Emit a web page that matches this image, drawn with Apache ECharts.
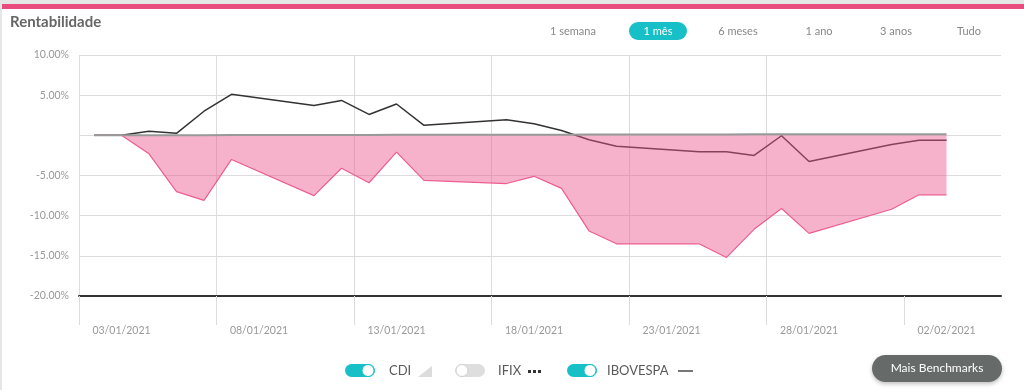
<!DOCTYPE html>
<html>
<head>
<meta charset="utf-8">
<script src="https://cdn.jsdelivr.net/npm/echarts@6/dist/echarts.min.js"></script>
<style>
html,body{margin:0;padding:0;background:#fff;}
#c{width:1024px;height:390px;}
</style>
</head>
<body>
<div id="c"></div>
<script>
// ---- data ----
const dates = ['2021-01-02','2021-01-03','2021-01-04','2021-01-05','2021-01-06','2021-01-07',
  '2021-01-10','2021-01-11','2021-01-12','2021-01-13','2021-01-14',
  '2021-01-17','2021-01-18','2021-01-19','2021-01-20','2021-01-21',
  '2021-01-24','2021-01-25','2021-01-26','2021-01-27','2021-01-28',
  '2021-01-31','2021-02-01','2021-02-02'];
const carteira = [0, 0, -2.3, -7.0, -8.1, -3.0, -7.5, -4.1, -5.9, -2.1, -5.6,
  -6.0, -5.1, -6.6, -11.9, -13.5, -13.5, -15.2, -11.7, -9.1, -12.2, -9.2, -7.4, -7.4];
const ibovespa = [0, 0, 0.5, 0.25, 3.0, 5.1, 3.7, 4.35, 2.6, 3.9, 1.25,
  1.95, 1.45, 0.6, -0.55, -1.35, -2.05, -2.05, -2.5, -0.05, -3.25, -1.15, -0.6, -0.6];
const cdi = [0, 0, 0.01, 0.02, 0.02, 0.03, 0.04, 0.04, 0.05, 0.06, 0.06,
  0.07, 0.08, 0.08, 0.09, 0.10, 0.10, 0.11, 0.12, 0.12, 0.13, 0.14, 0.14, 0.15];
const xLabelDates = ['2021-01-03','2021-01-08','2021-01-13','2021-01-18','2021-01-23','2021-01-28','2021-02-02'];
const periods = ['1 semana','1 mês','6 meses','1 ano','3 anos','Tudo'];
const legendItems = ['CDI','IFIX','IBOVESPA'];

// day number within 2021 (Jan 1 = 1)
function dayNum(s){ const p=s.split('-').map(Number); return (Date.UTC(p[0],p[1]-1,p[2]) - Date.UTC(2021,0,0))/86400000; }
function fmtDay(d){ const t=new Date(Date.UTC(2021,0,0)+Math.round(d)*86400000);
  const dd=String(t.getUTCDate()).padStart(2,'0'), mm=String(t.getUTCMonth()+1).padStart(2,'0');
  return dd+'/'+mm+'/'+t.getUTCFullYear(); }
const xs = dates.map(dayNum);
const pair = arr => arr.map((v,i)=>[xs[i], v]);

const X_MIN = 1.455, X_MAX = 34.98, X_INT = 5;
const tickVals = []; for (let v = X_MIN; v < X_MAX - 1; v += X_INT) tickVals.push(v);

const FONT = 'Lato, "Open Sans", sans-serif';
const TEAL = '#17bfc6';

const chart = echarts.init(document.getElementById('c'), null, {renderer:'canvas'});

const graphics = [
  {type:'rect', shape:{x:0,y:0,width:1024,height:4}, style:{fill:'#e6e6e6'}, silent:true},
  {type:'rect', shape:{x:0,y:0,width:2,height:390}, style:{fill:'#e6e6e6'}, silent:true},
  {type:'rect', shape:{x:2,y:4,width:1022,height:5}, style:{fill:'#e84b7e'}, silent:true},
  {type:'text', x:10, y:22, style:{text:'Rentabilidade', font:'bold 15px '+FONT, fill:'#666', verticalAlign:'middle'}},
  // Mais Benchmarks button
  {type:'rect', shape:{x:872,y:355,width:130,height:27,r:13.5}, style:{fill:'#666b6a', shadowBlur:4, shadowOffsetY:2, shadowColor:'rgba(0,0,0,0.25)'}},
  {type:'text', x:937, y:368.5, style:{text:'Mais Benchmarks', font:'12px '+FONT, fill:'#fff', align:'center', verticalAlign:'middle'}}
];
// period buttons
const periodX = [573, 658, 738, 819, 896, 969];
periods.forEach((p,i)=>{
  if (i===1) graphics.push({type:'rect', shape:{x:629,y:22,width:58,height:18,r:9}, style:{fill:TEAL}});
  graphics.push({type:'text', x:periodX[i], y:31, style:{text:p, font:'11px '+FONT, fill: i===1?'#fff':'#888', align:'center', verticalAlign:'middle'}});
});
// legend toggles
const togX = [345, 455, 567], textX = [389, 498, 607], on = [true,false,true];
legendItems.forEach((name,i)=>{
  graphics.push({type:'rect', shape:{x:togX[i],y:364,width:30,height:13,r:6.5}, style:{fill: on[i]?TEAL:'#dedede'}});
  graphics.push({type:'circle', shape:{cx: on[i]? togX[i]+23 : togX[i]+7, cy:370.5, r:6}, style:{fill:'#fff', stroke: on[i]?TEAL:'#d0d0d0', lineWidth:1}});
  graphics.push({type:'text', x:textX[i], y:371, style:{text:name, font:'13px '+FONT, fill:'#5a5a5a', verticalAlign:'middle'}});
});
// legend icons
graphics.push({type:'polygon', shape:{points:[[418,377],[432,377],[432,366]]}, style:{fill:'#dcdcdc'}});
[528,533,538].forEach(x=>graphics.push({type:'rect', shape:{x:x,y:370,width:3,height:3}, style:{fill:'#333'}}));
graphics.push({type:'rect', shape:{x:678,y:370,width:15,height:2}, style:{fill:'#777'}});

chart.setOption({
  animation:false,
  backgroundColor:'#fff',
  graphic: graphics,
  grid:{left:79, right:23, top:55, bottom:94, containLabel:false},
  xAxis:{
    type:'value', min:X_MIN, max:X_MAX, interval:X_INT,
    axisLine:{show:true, onZero:false, lineStyle:{color:'#333', width:2}},
    axisTick:{show:true, length:29, customValues: tickVals, lineStyle:{color:'#dcdcdc'}},
    splitLine:{show:true, showMaxLine:false, lineStyle:{color:'#dcdcdc'}},
    axisLabel:{customValues: xLabelDates.map(dayNum), formatter: v=>fmtDay(v), margin:29, color:'#999', fontFamily:FONT, fontSize:10.5}
  },
  yAxis:{
    type:'value', min:-20, max:10, interval:5,
    axisLine:{show:false}, axisTick:{show:false},
    splitLine:{lineStyle:{color:'#dcdcdc'}},
    axisLabel:{formatter: v => v===0 ? '' : v.toFixed(2)+'%', margin:10, color:'#999', fontFamily:FONT, fontSize:10.5}
  },
  series:[
    {name:'IBOVESPA', type:'line', data:pair(ibovespa), symbol:'none', lineStyle:{color:'#333', width:1.5}, z:2},
    {name:'Carteira', type:'line', data:pair(carteira), symbol:'none', lineStyle:{color:'#ec5d92', width:1.2},
      areaStyle:{color:'rgba(238,84,140,0.45)', opacity:1, origin:0}, z:3},
    {name:'CDI', type:'line', data:pair(cdi), symbol:'none', lineStyle:{color:'#999', width:2}, z:4}
  ]
});
</script>
</body>
</html>
